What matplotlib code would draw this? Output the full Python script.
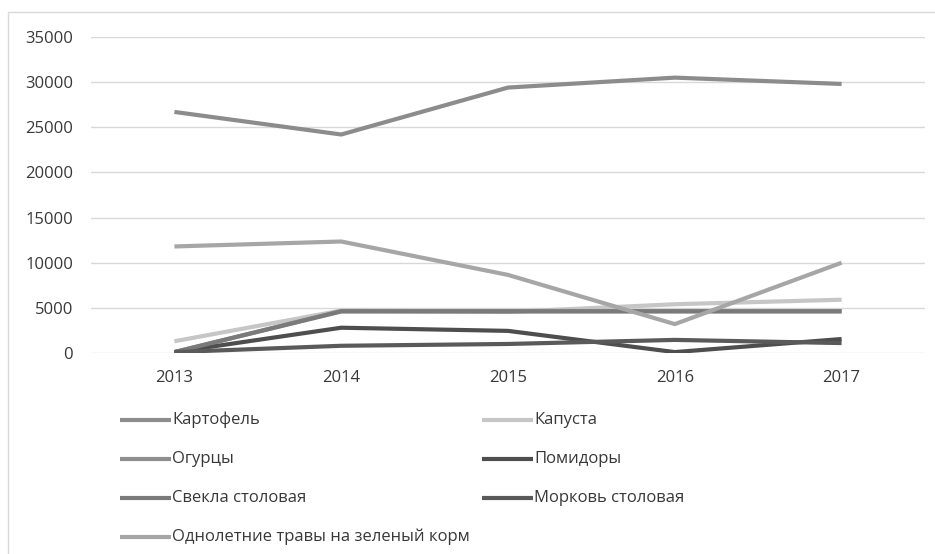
import matplotlib
matplotlib.use("Agg")
import matplotlib.pyplot as plt
from matplotlib.lines import Line2D
from matplotlib.patches import Rectangle

years = ["2013", "2014", "2015", "2016", "2017"]
series_names = ["Картофель", "Капуста", "Огурцы", "Помидоры",
                "Свекла столовая", "Морковь столовая",
                "Однолетние травы на зеленый корм"]
kartofel = [26700, 24200, 29400, 30500, 29800]
kapusta = [1300, 4700, 4550, 5400, 5900]
ogurcy = [100, 4650, 4650, 4650, 4650]
pomidory = [100, 2800, 2450, 100, 1550]
svekla = [100, 4600, 4600, 4600, 4600]
morkov = [100, 800, 1000, 1450, 1100]
travy = [11800, 12350, 8650, 3200, 10000]
values = [kartofel, kapusta, ogurcy, pomidory, svekla, morkov, travy]
colors = ["#8c8c8c", "#c6c6c6", "#8e8e8e", "#4e4e4e", "#7a7a7a", "#5a5a5a", "#a6a6a6"]
yticks = [0, 5000, 10000, 15000, 20000, 25000, 30000, 35000]

plt.rcParams['font.family'] = ['Open Sans', 'DejaVu Sans']

W, H = 935, 554
fig = plt.figure(figsize=(W / 100, H / 100), dpi=100)
fig.patch.set_facecolor("white")

# chart border
fig.add_artist(Rectangle((8 / W, 0 - 1 / H), 1.0, (H - 12 + 1) / H, transform=fig.transFigure,
                         fill=False, edgecolor="#d9d9d9", linewidth=1))

ax = fig.add_axes([91 / W, (H - 353) / H, (925 - 91) / W, (353 - 37) / H])
x = list(range(len(years)))
for name, vals, c in zip(series_names, values, colors):
    ax.plot(x, vals, color=c, linewidth=3, solid_capstyle="butt", solid_joinstyle="round", label=name)

ax.set_xlim(-0.5, len(years) - 0.5)
ax.set_ylim(0, 35000)
ax.set_yticks(yticks)
ax.set_yticklabels([str(v) for v in yticks])
ax.set_xticks(x)
ax.set_xticklabels(years)
ax.grid(axis="y", color="#d9d9d9", linewidth=1)
ax.set_axisbelow(True)
for s in ax.spines.values():
    s.set_visible(False)
ax.tick_params(axis="both", length=0, labelsize=12, colors="#383838")
ax.tick_params(axis="x", pad=12)
ax.tick_params(axis="y", pad=13)

# legend (row-wise, two columns as in the original)
col_x = [120, 482]
row_y = [420, 459, 498, 537]
for i, (name, c) in enumerate(zip(series_names, colors)):
    r, cidx = divmod(i, 2)
    x0 = col_x[cidx]
    y0 = row_y[r]
    fig.add_artist(Line2D([x0 / W, (x0 + 51) / W], [(H - y0) / H, (H - y0) / H],
                          transform=fig.transFigure, color=c, linewidth=3, solid_capstyle="butt"))
    fig.text((x0 + 52) / W, (H - y0) / H, name, fontsize=12, color="#383838",
             va="center", ha="left")

fig.savefig("out.png", dpi=100, facecolor="white")
